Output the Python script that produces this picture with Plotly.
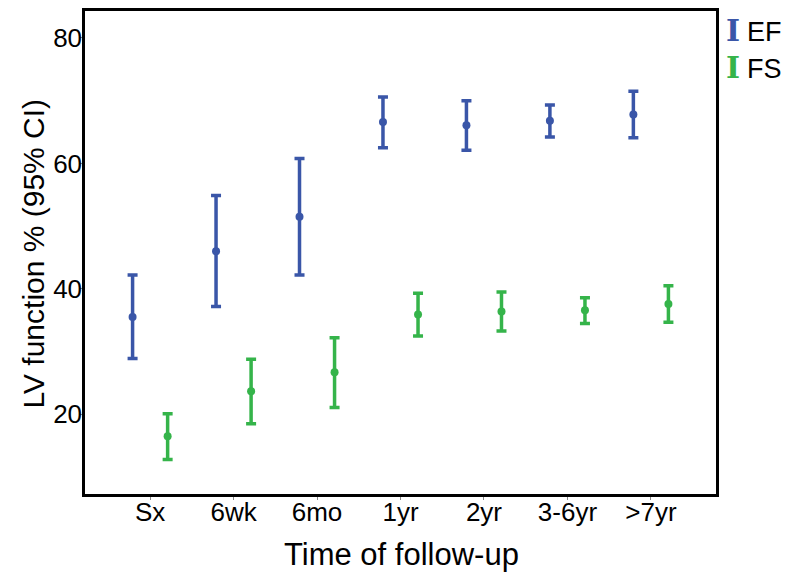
import plotly.graph_objects as go

categories = ["Sx", "6wk", "6mo", "1yr", "2yr", "3-6yr", ">7yr"]

ef_mean = [35.5, 46.0, 51.5, 66.6, 66.1, 66.8, 67.8]
ef_upper = [42.2, 54.9, 60.8, 70.6, 70.0, 69.3, 71.5]
ef_lower = [28.9, 37.2, 42.2, 62.5, 62.1, 64.2, 64.1]

fs_mean = [16.5, 23.7, 26.7, 35.9, 36.4, 36.6, 37.6]
fs_upper = [20.1, 28.8, 32.2, 39.3, 39.5, 38.6, 40.5]
fs_lower = [12.8, 18.5, 21.1, 32.5, 33.3, 34.5, 34.7]

blue = "#3A56A8"
green = "#35B44A"
font_family = "Liberation Sans, Arial, sans-serif"

offset = 0.21
xi = list(range(len(categories)))

def trace(mean, upper, lower, color, name, shift):
    return go.Scatter(
        x=[i + shift for i in xi],
        y=mean,
        mode="markers",
        name=name,
        marker=dict(color=color, size=8),
        error_y=dict(
            type="data",
            symmetric=False,
            array=[u - m for u, m in zip(upper, mean)],
            arrayminus=[m - l for m, l in zip(mean, lower)],
            color=color,
            thickness=3.5,
            width=5,
        ),
        showlegend=False,
    )

fig = go.Figure()
fig.add_trace(trace(ef_mean, ef_upper, ef_lower, blue, "EF", -offset))
fig.add_trace(trace(fs_mean, fs_upper, fs_lower, green, "FS", offset))

fig.update_layout(
    width=800,
    height=580,
    margin=dict(l=77, r=92, t=0, b=94),
    paper_bgcolor="white",
    plot_bgcolor="white",
    font=dict(family=font_family, color="black", size=24),
)
fig.update_xaxes(
    range=[-0.78, 6.78],
    tickmode="array",
    tickvals=xi,
    ticktext=categories,
    showgrid=False,
    zeroline=False,
    showline=True,
    linecolor="black",
    linewidth=2.5,
    mirror=True,
    ticks="outside",
    ticklen=3,
    tickcolor="#888888",
    tickfont=dict(size=26),
    ticklabelstandoff=-10,
)
fig.update_yaxes(
    range=[7.3, 84.3],
    tickvals=[20, 40, 60, 80],
    showgrid=False,
    zeroline=False,
    showline=True,
    linecolor="black",
    linewidth=2.5,
    mirror=True,
    ticks="outside",
    ticklen=3,
    tickcolor="#888888",
    tickfont=dict(size=26),
    ticklabelstandoff=-8,
)

# axis titles
fig.add_annotation(
    xref="paper", yref="paper", x=0.501, y=0, yshift=-60,
    xanchor="center", yanchor="middle", showarrow=False,
    text="Time of follow-up", font=dict(size=31),
)
fig.add_annotation(
    xref="paper", yref="paper", x=0, y=0.498, xshift=-52,
    xanchor="center", yanchor="middle", showarrow=False, textangle=-90,
    text="LV function % (95% CI)", font=dict(size=30),
)

# legend drawn as I-beam glyph + label
legend_names = ["EF", "FS"]
legend_colors = [blue, green]
for k, (name, color) in enumerate(zip(legend_names, legend_colors)):
    dy = 37 * k
    fig.add_annotation(
        xref="paper", yref="paper", x=1, y=1, xshift=17, yshift=-(19 + dy),
        xanchor="center", yanchor="middle", showarrow=False,
        text="I", font=dict(size=30, color=color, family="DejaVu Serif", weight="bold"),
    )
    fig.add_annotation(
        xref="paper", yref="paper", x=1, y=1, xshift=29, yshift=-(21 + dy),
        xanchor="left", yanchor="middle", showarrow=False,
        text=name, font=dict(size=27, color="black"),
    )

fig.write_html("out.html")
